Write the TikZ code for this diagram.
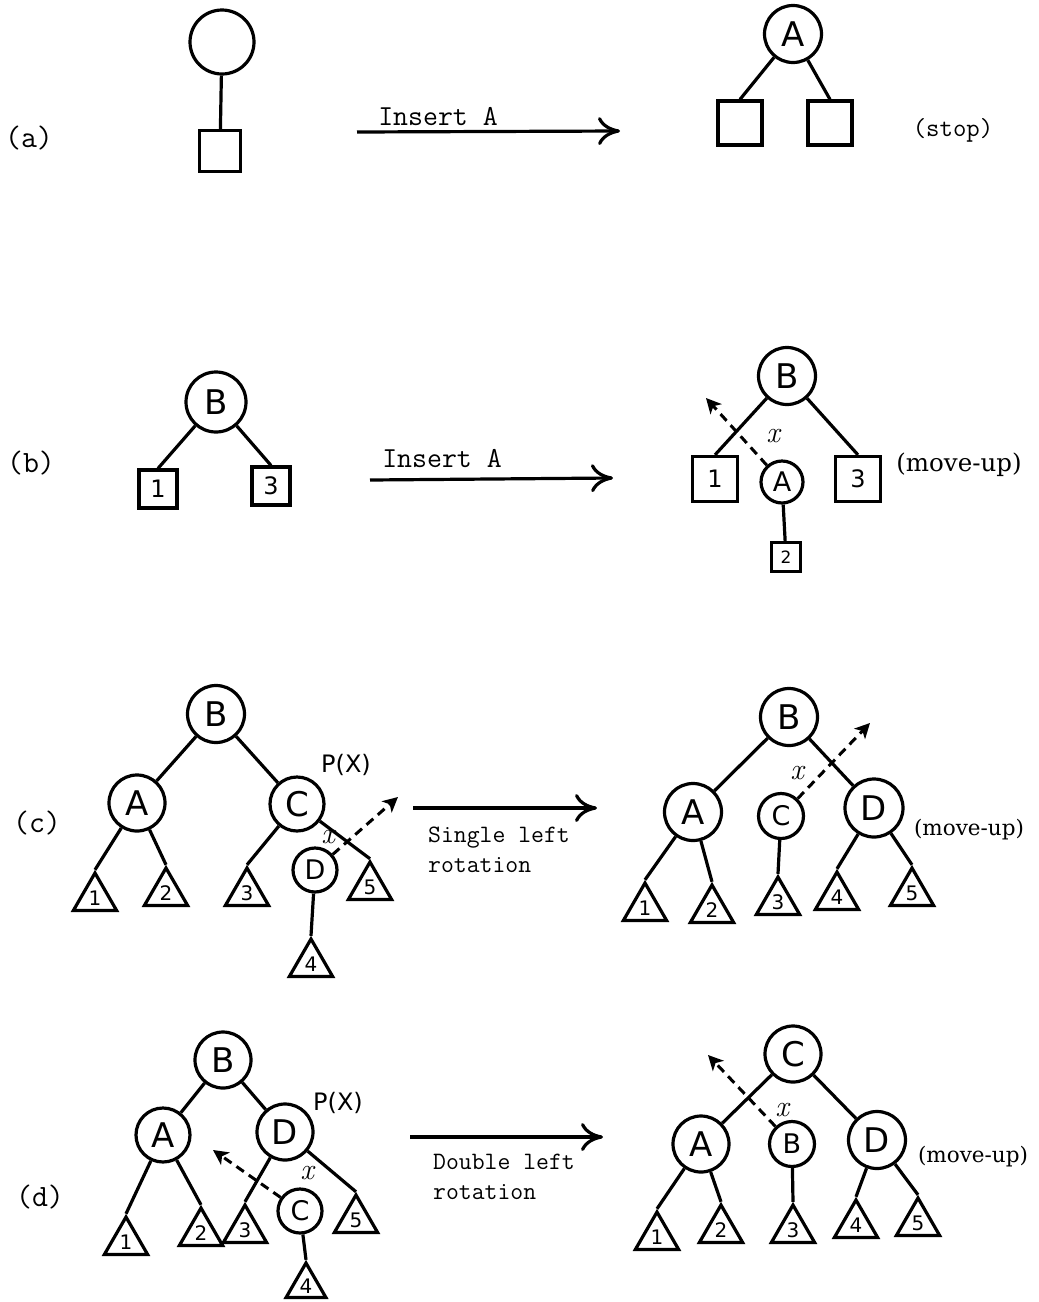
\documentclass[tikz,border=0pt]{standalone}
\usepackage{fontspec}
\newfontfamily\moveupfont{DejaVu Serif}
\newfontfamily\handfont{DejaVu Sans}
\usetikzlibrary{arrows.meta,shapes.geometric}

\tikzset{
  treeline/.style={line width=3.2pt},
  bignode/.style={circle, draw, line width=3.2pt, inner sep=0pt, minimum size=57pt,
    font=\fontsize{34}{34}\handfont},
  smallnode/.style={circle, draw, line width=3.2pt, inner sep=0pt, minimum size=44pt,
    font=\fontsize{27}{27}\handfont},
  leafbox/.style={rectangle, draw, line width=3.2pt, inner sep=0pt, minimum size=#1,
    font=\fontsize{24}{24}\handfont},
  leafbox/.default=42pt,
  subtree/.style={regular polygon, regular polygon sides=3, draw, line width=3.2pt,
    inner sep=0pt, minimum size=50pt, font=\fontsize{20}{20}\handfont},
  rowtag/.style={font=\fontsize{31}{31}\ttfamily\addfontfeatures{FakeBold=0.6}, inner sep=0pt},
  steplabel/.style={font=\fontsize{29}{29}\ttfamily\addfontfeatures{FakeBold=0.6}, inner sep=0pt},
  rotlabel/.style={font=\fontsize{25}{30}\ttfamily\addfontfeatures{FakeBold=0.6}, inner sep=0pt,
    align=left, anchor=west},
  stoplabel/.style={font=\fontsize{26}{26}\ttfamily\addfontfeatures{FakeBold=0.6}, inner sep=0pt},
  moveup/.style={font=\fontsize{#1}{#1}\moveupfont, inner sep=0pt},
  moveup/.default=21.5,
  xmark/.style={font=\fontsize{30}{30}\itshape\addfontfeatures{FakeBold=1}, inner sep=0pt},
  pmark/.style={font=\fontsize{24}{24}\handfont, inner sep=0pt},
  mainarrow/.style={line width=3.2pt, -{Computer Modern Rightarrow[length=22pt,width=28pt]}},
  dasharrow/.style={line width=3pt, dash pattern=on 9pt off 6pt,
    -{Stealth[length=15pt,width=15pt,inset=4pt]}},
}
\newcommand{\lowdigit}[1]{\raisebox{-3pt}{#1}}

\begin{document}
\begin{tikzpicture}[x=1pt,y=-1pt]
\fill[white] (0,0) rectangle (1039,1302);
\useasboundingbox (0,0) rectangle (1039,1302);

% ---------------- (a) ----------------
\node[rowtag] (tagA) at (29,138) {(a)};
\node[bignode, minimum size=64pt] (a0) at (222,42) {};
\node[leafbox=41pt] (a1) at (220,151) {};
\draw[treeline] (a0) -- (a1);

\coordinate (aS) at (357,132);
\coordinate (aE) at (620,131);
\draw[mainarrow] (aS) -- (aE);
\node[steplabel] (aStep) at (438,117) {Insert A};

\node[bignode] (aA) at (793,34) {A};
\node[leafbox=44pt] (aL) at (740,123) {};
\node[leafbox=44pt] (aR) at (830,123) {};
\draw[treeline] (aA) -- (aL.north);
\draw[treeline] (aA) -- (aR.north);
\node[stoplabel] (aStop) at (953,130) {(stop)};

% ---------------- (b) ----------------
\node[rowtag] (tagB) at (31,463) {(b)};
\node[bignode, minimum size=60pt] (bB) at (216,402) {B};
\node[leafbox=38pt] (b1) at (158,489) {1};
\node[leafbox=38pt] (b3) at (271,486) {3};
\draw[treeline] (bB) -- (b1.north);
\draw[treeline] (bB) -- (b3.north);

\coordinate (bS) at (370,480);
\coordinate (bE) at (613,478);
\draw[mainarrow] (bS) -- (bE);
\node[steplabel] (bStep) at (442,459) {Insert A};

\node[bignode] (rB) at (787,376) {B};
\node[leafbox=45pt] (r1) at (715,479) {1};
\node[smallnode, minimum size=42pt] (rA) at (782,482) {A};
\node[leafbox=45pt] (r3) at (858,479) {3};
\node[leafbox=29pt, font=\fontsize{17}{17}\handfont] (r2) at (786,557) {2};
\draw[treeline] (rB) -- (r1.north);
\draw[treeline] (rB) -- (r3.north);
\draw[treeline] (rA) -- (r2);
\coordinate (rTip) at (706,398);
\draw[dasharrow] (rA) -- (rTip);
\node[xmark] (rX) at (773,436) {x};
\node[moveup=24.5] (rMove) at (959,465) {(move-up)};

% ---------------- (c) ----------------
\node[rowtag] (tagC) at (37,823) {(c)};
\node[bignode] (cB) at (216,714) {B};
\node[bignode, minimum size=56pt] (cA) at (137,803) {A};
\node[bignode, minimum size=54pt] (cC) at (297,804) {C};
\node[smallnode] (cD) at (315,870) {D};
\node[subtree] (c1) at (95,898) {\lowdigit{1}};
\node[subtree] (c2) at (166,893) {\lowdigit{2}};
\node[subtree] (c3) at (247,893) {\lowdigit{3}};
\node[subtree] (c5) at (370,887) {\lowdigit{5}};
\node[subtree] (c4) at (311,964) {\lowdigit{4}};
\draw[treeline] (cB) -- (cA);
\draw[treeline] (cB) -- (cC);
\draw[treeline] (cA) -- (c1.corner 1);
\draw[treeline] (cA) -- (c2.corner 1);
\draw[treeline] (cC) -- (c3.corner 1);
\draw[treeline] (cC) -- (c5.corner 1);
\draw[treeline] (cD) -- (c4.corner 1);
\node[pmark] (cP) at (346,765) {P(X)};
\node[xmark] (cX) at (328,837) {x};
\coordinate (cTip) at (398,797);
\draw[dasharrow] (cD) -- (cTip);

\coordinate (cS) at (413,808);
\coordinate (cE) at (597,808);
\draw[mainarrow] (cS) -- (cE);
\node[rotlabel] (cStep) at (428,850) {Single left\\rotation};

\node[bignode] (dB) at (789,717) {B};
\node[bignode] (dA) at (693,812) {A};
\node[smallnode, minimum size=45pt] (dC) at (781,816) {C};
\node[bignode, minimum size=58pt] (dD) at (874,808) {D};
\node[subtree] (d1) at (645,908) {\lowdigit{1}};
\node[subtree] (d2) at (712,910) {\lowdigit{2}};
\node[subtree] (d3) at (778,902) {\lowdigit{3}};
\node[subtree] (d4) at (837,897) {\lowdigit{4}};
\node[subtree] (d5) at (912,893) {\lowdigit{5}};
\draw[treeline] (dB) -- (dA);
\draw[treeline] (dB) -- (dD);
\draw[treeline] (dA) -- (d1.corner 1);
\draw[treeline] (dA) -- (d2.corner 1);
\draw[treeline] (dC) -- (d3.corner 1);
\draw[treeline] (dD) -- (d4.corner 1);
\draw[treeline] (dD) -- (d5.corner 1);
\coordinate (dTip) at (870,723);
\draw[dasharrow] (dC) -- (dTip);
\node[xmark] (dX) at (797,773) {x};
\node[moveup] (dMove) at (969,830) {(move-up)};

% ---------------- (d) ----------------
\node[rowtag] (tagD) at (40,1197) {(d)};
\node[bignode, minimum size=56pt] (eB) at (223,1060) {B};
\node[bignode, minimum size=54pt] (eA) at (163,1135) {A};
\node[bignode, minimum size=56pt] (eD) at (285,1132) {D};
\node[smallnode] (eC) at (300,1211) {C};
\node[subtree] (e1) at (126,1242) {\lowdigit{1}};
\node[subtree] (e2) at (201,1233) {\lowdigit{2}};
\node[subtree] (e3) at (245,1230) {\lowdigit{3}};
\node[subtree] (e5) at (356,1220) {\lowdigit{5}};
\node[subtree, minimum size=46pt] (e4) at (306,1286) {\lowdigit{4}};
\draw[treeline] (eB) -- (eA);
\draw[treeline] (eB) -- (eD);
\draw[treeline] (eA) -- (e1.corner 1);
\draw[treeline] (eA) -- (e2.corner 1);
\draw[treeline] (eD) -- (e3.corner 1);
\draw[treeline] (eD) -- (e5.corner 1);
\draw[treeline] (eC) -- (e4.corner 1);
\node[pmark] (eP) at (338,1103) {P(X)};
\node[xmark] (eX) at (307,1173) {x};
\coordinate (eTip) at (213,1150);
\draw[dasharrow] (eC) -- (eTip);

\coordinate (eS) at (410,1137);
\coordinate (eE) at (603,1137);
\draw[mainarrow] (eS) -- (eE);
\node[rotlabel] (eStep) at (433,1177) {Double left\\rotation};

\node[bignode, minimum size=56pt] (fC) at (793,1054) {C};
\node[bignode, minimum size=56pt] (fA) at (701,1144) {A};
\node[smallnode, minimum size=45pt] (fB) at (792,1144) {B};
\node[bignode, minimum size=57pt] (fD) at (877,1140) {D};
\node[subtree] (f1) at (657,1237) {\lowdigit{1}};
\node[subtree] (f2) at (721,1230) {\lowdigit{2}};
\node[subtree] (f3) at (793,1230) {\lowdigit{3}};
\node[subtree] (f4) at (856,1225) {\lowdigit{4}};
\node[subtree] (f5) at (918,1223) {\lowdigit{5}};
\draw[treeline] (fC) -- (fA);
\draw[treeline] (fC) -- (fD);
\draw[treeline] (fA) -- (f1.corner 1);
\draw[treeline] (fA) -- (f2.corner 1);
\draw[treeline] (fB) -- (f3.corner 1);
\draw[treeline] (fD) -- (f4.corner 1);
\draw[treeline] (fD) -- (f5.corner 1);
\coordinate (fTip) at (708,1055);
\draw[dasharrow] (fB) -- (fTip);
\node[xmark] (fX) at (782,1110) {x};
\node[moveup] (fMove) at (973,1157) {(move-up)};
\end{tikzpicture}
\end{document}
